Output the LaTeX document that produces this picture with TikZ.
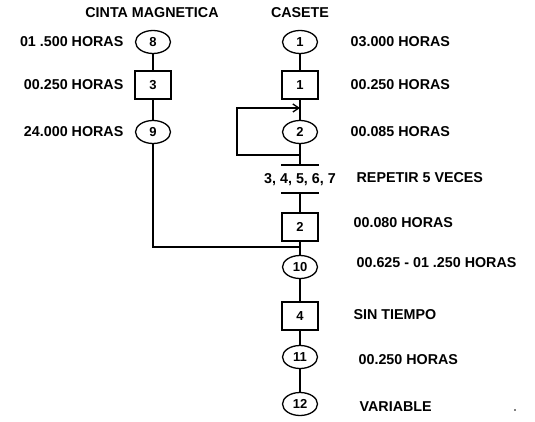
\documentclass[tikz,border=0pt]{standalone}
\usepackage{fontspec}
\setmainfont{Liberation Sans}
\usetikzlibrary{shapes.geometric,arrows.meta}
\begin{document}
\begin{tikzpicture}[x=1pt,y=-1pt,line width=1.3pt,
  lbl/.style={font=\fontsize{14.3}{16}\selectfont\bfseries, inner sep=0pt},
  oval/.style={draw, ellipse, minimum width=35pt, minimum height=23pt, inner sep=0pt, font=\fontsize{13}{15}\selectfont\bfseries},
  sbox/.style={draw, rectangle, minimum width=36pt, minimum height=28pt, inner sep=0pt, font=\fontsize{13}{15}\selectfont\bfseries}]
\useasboundingbox (0,0) rectangle (535,422);
% headers
\node[lbl] (h1) at (152,13) {CINTA MAGNETICA};
\node[lbl] (h2) at (300,13) {CASETE};
% left column
\node[oval] (c8) at (153,42) {8};
\node[sbox] (b3) at (153,85) {3};
\node[oval] (c9) at (153,132) {9};
\node[lbl, anchor=east] (l8) at (124,42) {01 .500 HORAS};
\node[lbl, anchor=east] (l3) at (124,85) {00.250 HORAS};
\node[lbl, anchor=east] (l9) at (124,132) {24.000 HORAS};
% right column
\node[oval] (c1) at (300,42) {1};
\node[sbox] (b1) at (300,85) {1};
\node[oval] (c2) at (300,132) {2};
\coordinate (bar1) at (300,165);
\node[lbl] (rep) at (300,180) {3, 4, 5, 6, 7};
\coordinate (bar2) at (300,193);
\node[sbox] (b2) at (300,227) {2};
\coordinate (j) at (300,247);
\node[oval] (c10) at (300,267) {10};
\node[sbox] (b4) at (300,316) {4};
\node[oval] (c11) at (300,357) {11};
\node[oval] (c12) at (300,404) {12};
% right labels
\node[lbl, anchor=west] (r1) at (350,42) {03.000 HORAS};
\node[lbl, anchor=west] (r2) at (350,85) {00.250 HORAS};
\node[lbl, anchor=west] (r3) at (350,132) {00.085 HORAS};
\node[lbl, anchor=west] (r4) at (356,178) {REPETIR 5 VECES};
\node[lbl, anchor=west] (r5) at (353,223) {00.080 HORAS};
\node[lbl, anchor=west] (r6) at (356,263) {00.625 - 01 .250 HORAS};
\node[lbl, anchor=west] (r7) at (353,315) {SIN TIEMPO};
\node[lbl, anchor=west] (r8) at (358,360) {00.250 HORAS};
\node[lbl, anchor=west] (r9) at (359,407) {VARIABLE};
% connectors
\draw (c8) -- (b3) -- (c9);
\draw (c9) |- (j);
\draw (c1) -- (b1) -- (c2) -- (bar1);
\draw ([xshift=-19pt]bar1) -- ([xshift=19pt]bar1);
\draw ([xshift=-19pt]bar2) -- ([xshift=19pt]bar2);
\draw (bar2) -- (b2) -- (c10) -- (b4) -- (c11) -- (c12);
% loop
\coordinate (lp) at (300,155);
\coordinate (la) at (237,155);
\coordinate (lb) at (237,108);
\coordinate (ar) at (300,108);
\draw[-{Straight Barb[length=6pt,width=8pt]}] (lp) -- (la) -- (lb) -- (ar);
% speck
\fill (515,410) circle (0.8pt);
\end{tikzpicture}
\end{document}
